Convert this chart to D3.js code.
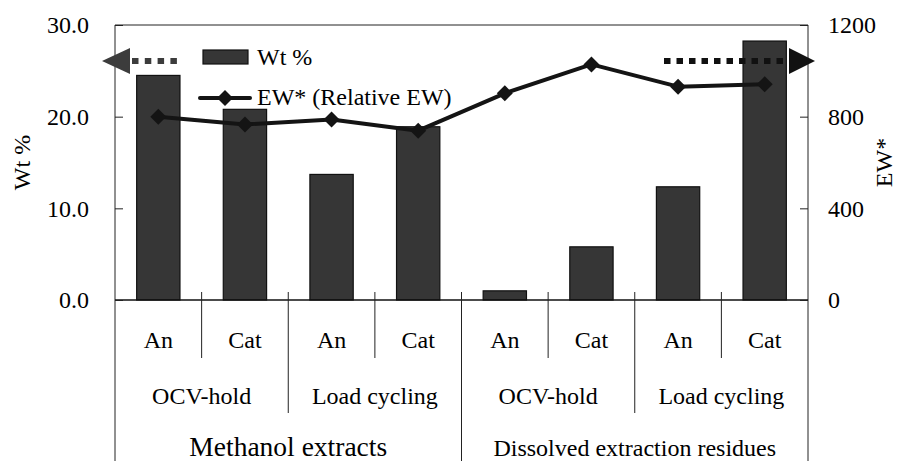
<!DOCTYPE html>
<html>
<head>
<meta charset="utf-8">
<script src="https://cdn.jsdelivr.net/npm/d3@7"></script>
<style>
  body { margin: 0; background: #fff; }
</style>
</head>
<body>
<div id="chart"></div>
<script>
// data
const sides = ["An", "Cat", "An", "Cat", "An", "Cat", "An", "Cat"];
const tests = ["OCV-hold", "Load cycling", "OCV-hold", "Load cycling"];
const fractions = ["Methanol extracts", "Dissolved extraction residues"];
const wtPct = [24.5, 20.8, 13.7, 18.9, 1.0, 5.8, 12.35, 28.25];
const ewRel = [800, 766, 788, 739, 902, 1028, 931, 941];
const leftTicks = [0, 10, 20, 30];
const rightTicks = [0, 400, 800, 1200];

const W = 905, H = 461;
const margin = { top: 25, right: 97, bottom: 161, left: 115 };
const x0 = margin.left, x1 = W - margin.right, y0 = H - margin.bottom, y1 = margin.top;
const serif = "'Liberation Serif', 'DejaVu Serif Condensed', 'DejaVu Serif', serif";

const svg = d3.select("#chart").append("svg")
    .attr("width", W)
    .attr("height", H)
    .attr("font-family", serif);

const x = d3.scaleBand()
    .domain(d3.range(sides.length))
    .range([x0, x1])
    .paddingInner(0.5)
    .paddingOuter(0.25);

// category boundaries
const xb = d3.scaleLinear().domain([0, sides.length]).range([x0, x1]);

const yL = d3.scaleLinear().domain([0, 30]).range([y0, y1]);
const yR = d3.scaleLinear().domain([0, 1200]).range([y0, y1]);

const lineColor = "#222";

// frame
svg.append("path")
    .attr("d", `M${x0},${H}V${y1}H${x1}V${H}`)
    .attr("fill", "none")
    .attr("stroke", lineColor)
    .attr("stroke-width", 1);

// bars
svg.selectAll(".bar")
    .data(wtPct)
    .enter()
    .append("rect")
    .attr("class", "bar")
    .attr("x", (d, i) => x(i))
    .attr("y", d => yL(d))
    .attr("width", x.bandwidth())
    .attr("height", d => yL(0) - yL(d))
    .attr("fill", "#363636")
    .attr("stroke", "#111")
    .attr("stroke-width", 1.2);

// baseline
svg.append("line")
    .attr("x1", x0).attr("x2", x1)
    .attr("y1", y0).attr("y2", y0)
    .attr("stroke", "#111")
    .attr("stroke-width", 1.5);

// left axis
const axL = svg.append("g")
    .attr("transform", `translate(${x0},0)`)
    .call(d3.axisLeft(yL).tickValues(leftTicks).tickFormat(d3.format(".1f"))
        .tickSizeInner(-8).tickSizeOuter(0).tickPadding(26));
axL.attr("font-family", serif).attr("font-size", 24);
axL.select(".domain").remove();
axL.selectAll("line").attr("stroke", lineColor);
axL.selectAll("text").attr("fill", "#000");

// right axis
const axR = svg.append("g")
    .attr("transform", `translate(${x1},0)`)
    .call(d3.axisRight(yR).tickValues(rightTicks).tickFormat(d3.format("d"))
        .tickSizeInner(-8).tickSizeOuter(0).tickPadding(20));
axR.attr("font-family", serif).attr("font-size", 24);
axR.select(".domain").remove();
axR.selectAll("line").attr("stroke", lineColor);
axR.selectAll("text").attr("fill", "#000");

// axis titles
svg.append("text")
    .attr("transform", `translate(30,${(y0 + y1) / 2}) rotate(-90)`)
    .attr("text-anchor", "middle")
    .attr("font-size", 24)
    .text("Wt %");
svg.append("text")
    .attr("transform", `translate(892,${(y0 + y1) / 2}) rotate(-90)`)
    .attr("text-anchor", "middle")
    .attr("font-size", 24)
    .text("EW*");

// category separators, three levels
const sep1 = d3.range(1, sides.length, 2);
const sep2 = [2, 6];
const sep3 = [4];
svg.selectAll(".sep1").data(sep1).enter().append("line")
    .attr("x1", d => xb(d)).attr("x2", d => xb(d))
    .attr("y1", y0 - 8).attr("y2", 358)
    .attr("stroke", lineColor);
svg.selectAll(".sep2").data(sep2).enter().append("line")
    .attr("x1", d => xb(d)).attr("x2", d => xb(d))
    .attr("y1", y0 - 8).attr("y2", 413)
    .attr("stroke", lineColor);
svg.selectAll(".sep3").data(sep3).enter().append("line")
    .attr("x1", d => xb(d)).attr("x2", d => xb(d))
    .attr("y1", y0 - 8).attr("y2", H)
    .attr("stroke", lineColor);

// category labels
svg.selectAll(".lab1").data(sides).enter().append("text")
    .attr("x", (d, i) => x(i) + x.bandwidth() / 2)
    .attr("y", 348)
    .attr("text-anchor", "middle")
    .attr("font-size", 24)
    .text(d => d);
svg.selectAll(".lab2").data(tests).enter().append("text")
    .attr("x", (d, i) => xb(i * 2 + 1))
    .attr("y", 404)
    .attr("text-anchor", "middle")
    .attr("font-size", 24)
    .text(d => d);
svg.selectAll(".lab3").data(fractions).enter().append("text")
    .attr("x", (d, i) => xb(i * 4 + 2))
    .attr("y", 456)
    .attr("text-anchor", "middle")
    .attr("font-size", (d, i) => i === 0 ? 27.5 : 24)
    .text(d => d);

// EW line
const diamond = r => `M0,${-r}L${r},0L0,${r}L${-r},0Z`;
const line = d3.line()
    .x((d, i) => x(i) + x.bandwidth() / 2)
    .y(d => yR(d));
svg.append("path")
    .datum(ewRel)
    .attr("d", line)
    .attr("fill", "none")
    .attr("stroke", "#141414")
    .attr("stroke-width", 4)
    .attr("stroke-linejoin", "round");
svg.selectAll(".pt").data(ewRel).enter().append("path")
    .attr("transform", (d, i) => `translate(${x(i) + x.bandwidth() / 2},${yR(d)})`)
    .attr("d", diamond(8))
    .attr("fill", "#141414");

// legend
svg.append("rect")
    .attr("x", 203).attr("y", 50)
    .attr("width", 45).attr("height", 14)
    .attr("fill", "#363636").attr("stroke", "#111").attr("stroke-width", 1.2);
svg.append("text").attr("x", 257).attr("y", 65)
    .attr("font-size", 24).text("Wt %");
svg.append("line")
    .attr("x1", 200).attr("x2", 250).attr("y1", 98).attr("y2", 98)
    .attr("stroke", "#141414").attr("stroke-width", 4).attr("stroke-linecap", "round");
svg.append("path")
    .attr("transform", "translate(225,98)")
    .attr("d", diamond(8)).attr("fill", "#141414");
svg.append("text").attr("x", 257).attr("y", 105)
    .attr("font-size", 24).text("EW* (Relative EW)");

// axis pointers
const ay = 61;
svg.append("line")
    .attr("x1", 132).attr("x2", 178).attr("y1", ay).attr("y2", ay)
    .attr("stroke", "#3c3c3c").attr("stroke-width", 6)
    .attr("stroke-dasharray", "6.5,6.3");
svg.append("path")
    .attr("d", `M102,${ay}L130,${ay - 13}L130,${ay + 13}Z`)
    .attr("fill", "#3c3c3c");
svg.append("line")
    .attr("x1", 664).attr("x2", 789).attr("y1", ay).attr("y2", ay)
    .attr("stroke", "#111").attr("stroke-width", 6)
    .attr("stroke-dasharray", "6.5,6");
svg.append("path")
    .attr("d", `M815,${ay}L789,${ay - 13}L789,${ay + 13}Z`)
    .attr("fill", "#111");
</script>
</body>
</html>
